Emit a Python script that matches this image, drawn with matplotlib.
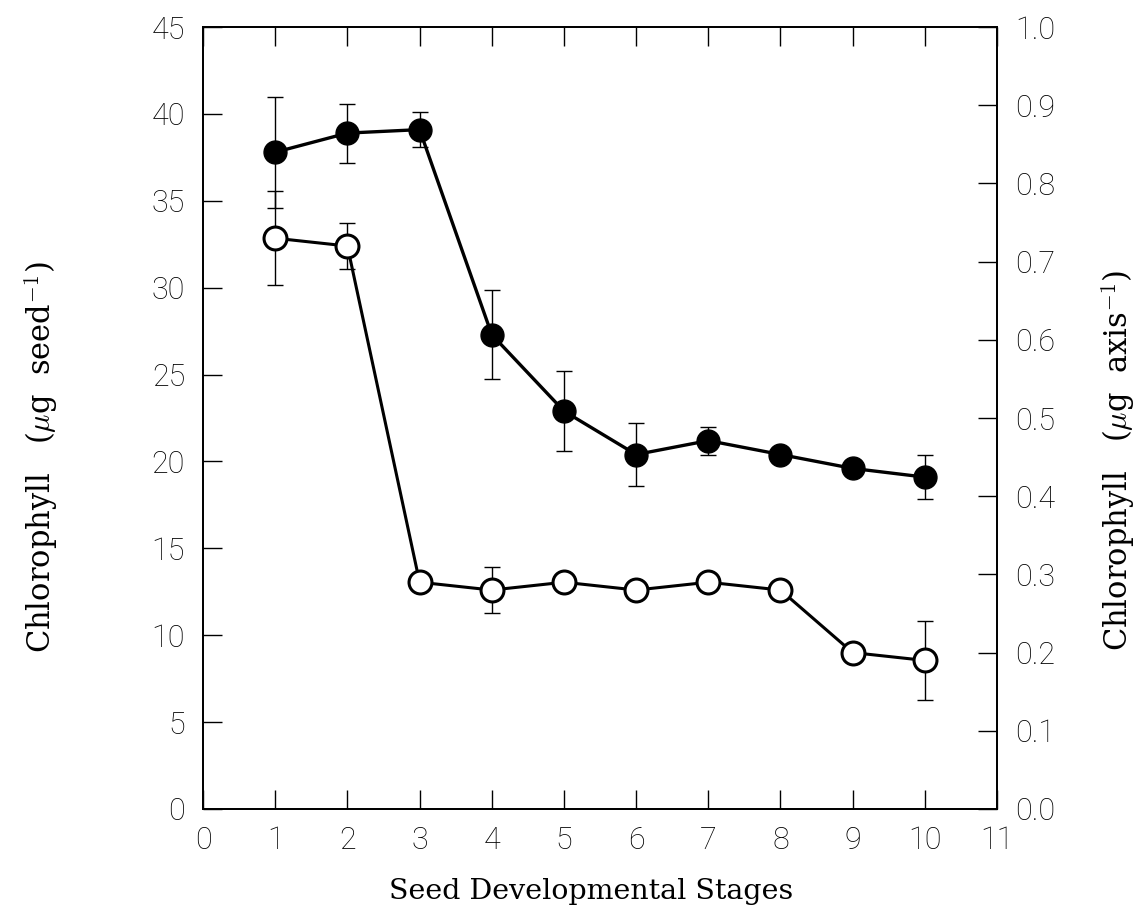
import matplotlib
matplotlib.use("Agg")
import matplotlib.pyplot as plt
import numpy as np

plt.rcParams['mathtext.fontset'] = 'cm'

stages = [1, 2, 3, 4, 5, 6, 7, 8, 9, 10]

# chlorophyll per seed (left axis, filled circles)
seed_chl = [37.8, 38.9, 39.1, 27.3, 22.9, 20.4, 21.2, 20.4, 19.6, 19.1]
seed_err = [3.2, 1.7, 1.0, 2.55, 2.3, 1.8, 0.8, 0.0, 0.0, 1.25]

# chlorophyll per axis (right axis, open circles)
axis_chl = [0.73, 0.72, 0.29, 0.28, 0.29, 0.28, 0.29, 0.28, 0.20, 0.19]
axis_err = [0.06, 0.03, 0.0, 0.029, 0.0, 0.0, 0.0, 0.0, 0.0, 0.05]

tick_font = dict(family='Roboto', weight='light', size=22)
xlabel_font = dict(family='DejaVu Serif', size=20.5)
ylabel_font = dict(family='DejaVu Serif', size=22)

fig = plt.figure(figsize=(11.44, 9.22), dpi=100)
ax = fig.add_axes([0.1775, 0.1226, 0.694, 0.848])
ax2 = ax.twinx()

ax.errorbar(stages, seed_chl, yerr=seed_err, fmt='none', ecolor='black',
            elinewidth=1.0, capsize=6, capthick=1.0, zorder=2)
ax.plot(stages, seed_chl, '-o', color='black', lw=2.4, markersize=16.5,
        markerfacecolor='black', markeredgecolor='black', zorder=3)

ax2.errorbar(stages, axis_chl, yerr=axis_err, fmt='none', ecolor='black',
             elinewidth=1.0, capsize=6, capthick=1.0, zorder=2)
ax2.plot(stages, axis_chl, '-o', color='black', lw=2.2, markersize=16.5,
         markerfacecolor='white', markeredgecolor='black', markeredgewidth=2.2, zorder=3)

ax.set_xlim(0, 11)
ax.set_ylim(0, 45)
ax2.set_ylim(0, 1.0)

ax.set_xticks(range(0, 12))
ax.set_yticks(range(0, 50, 5))
ax2.set_yticks(np.arange(0, 1.01, 0.1))
ax2.set_yticklabels([f'{v:.1f}' for v in np.arange(0, 1.01, 0.1)])

ax.tick_params(axis='x', direction='in', top=True, length=14, width=1.0, pad=12)
ax.tick_params(axis='y', direction='in', length=14, width=1.0, pad=13)
ax2.tick_params(axis='y', direction='in', length=14, width=1.0, pad=13)

for lab in ax.get_xticklabels() + ax.get_yticklabels() + ax2.get_yticklabels():
    lab.set_fontfamily(tick_font['family'])
    lab.set_fontweight(tick_font['weight'])
    lab.set_fontsize(tick_font['size'])

for a in (ax, ax2):
    for s in a.spines.values():
        s.set_linewidth(1.3)

ax.set_xlabel('Seed Developmental Stages', **xlabel_font)
ax.set_ylabel(r'Chlorophyll   ($\mu$g  seed$^{-1}$)', **ylabel_font)
ax2.set_ylabel(r'Chlorophyll   ($\mu$g  axis$^{-1}$)', **ylabel_font)
ax.xaxis.set_label_coords(0.489, -0.088)
ax.yaxis.set_label_coords(-0.18, 0.45)
ax2.yaxis.set_label_coords(1.128, 0.446)

fig.savefig('out.png', dpi=100)
